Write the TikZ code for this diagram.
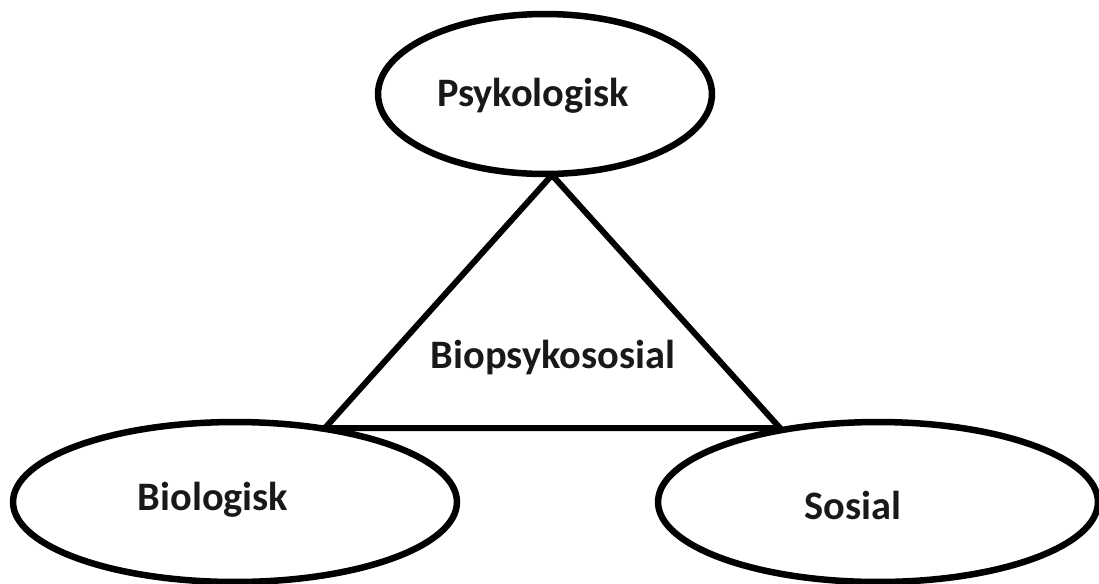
\documentclass[tikz,border=0pt]{standalone}
\usepackage{fontspec}
\setmainfont{Carlito}
\usetikzlibrary{shapes.geometric}
\begin{document}
\begin{tikzpicture}[x=0.02cm,y=-0.02cm,
  oval/.style={draw=black,line width=0.13cm,ellipse,inner sep=0pt},
  lbl/.style={font=\fontsize{23}{25}\selectfont\bfseries,inner sep=0pt,text=black!90},
  tri/.style={draw=black,line width=0.12cm,line join=miter}]
\useasboundingbox (0,0) rectangle (1099,583);
\node[oval,minimum width=6.68cm,minimum height=3.2cm] (ps) at (545,94) {};
\node[oval,minimum width=8.88cm,minimum height=3.2cm] (bio) at (235,502) {};
\node[oval,minimum width=8.8cm,minimum height=3.2cm] (so) at (878,502) {};
\coordinate (apex) at (552,175);
\coordinate (bl) at (325,428);
\coordinate (br) at (780,428);
\draw[tri] (apex) -- (bl) -- (br) -- cycle;
\node[lbl] (tps) at (533,96) {Psykologisk};
\node[lbl] (tbio) at (213,500) {Biologisk};
\node[lbl] (tso) at (853,505) {Sosial};
\node[lbl] (tbps) at (553,357) {Biopsykososial};
\end{tikzpicture}
\end{document}
